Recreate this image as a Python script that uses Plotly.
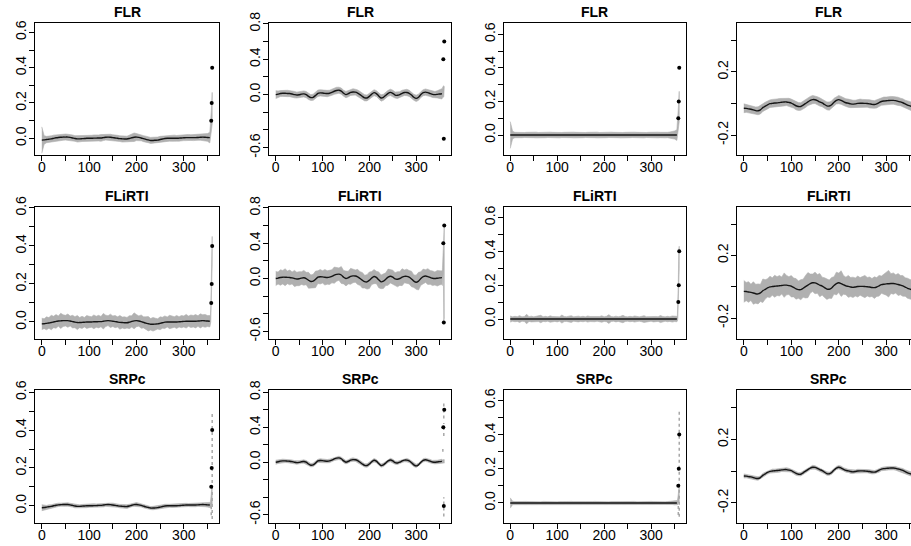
import plotly.graph_objects as go

W, H = 911, 546

methods = ["FLR", "FLiRTI", "SRPc"]

# evaluation grid of the coefficient function and the last few points
grid_x = list(range(0, 360, 5))
tail_x = [356, 357, 358, 359, 360]

# smooth part of the true coefficient function, one per column
beta_1 = [
    -0.010, -0.009, -0.007, -0.005, -0.003, 0.000, 0.003, 0.005, 0.006, 0.007, 0.007, 0.007,
    0.005, 0.002, -0.001, -0.003, -0.003, -0.002, -0.001, 0.000, 0.000, 0.000, 0.001, 0.001,
    0.002, 0.002, 0.004, 0.006, 0.007, 0.006, 0.004, 0.002, 0.000, -0.002, -0.003, -0.004,
    -0.004, -0.001, 0.003, 0.006, 0.007, 0.005, 0.002, -0.002, -0.006, -0.009, -0.012, -0.012,
    -0.011, -0.010, -0.007, -0.004, -0.001, 0.000, 0.000, 0.000, 0.000, 0.000, 0.001, 0.002,
    0.003, 0.004, 0.004, 0.004, 0.004, 0.004, 0.005, 0.006, 0.007, 0.006, 0.005, 0.004,
]
beta_2 = [
    0.000, 0.005, 0.012, 0.015, 0.015, 0.013, 0.012, 0.007, 0.000, -0.005, -0.002, 0.005,
    0.008, 0.000, -0.020, -0.034, -0.030, -0.010, 0.015, 0.020, 0.018, 0.014, 0.012, 0.015,
    0.025, 0.038, 0.047, 0.050, 0.040, 0.015, 0.000, 0.010, 0.025, 0.030, 0.028, 0.018,
    0.000, -0.020, -0.036, -0.038, -0.020, 0.005, 0.022, 0.012, -0.015, -0.038, -0.030, -0.008,
    0.015, 0.025, 0.015, -0.005, -0.008, 0.000, 0.015, 0.024, 0.024, 0.015, -0.005, -0.030,
    -0.042, -0.030, 0.000, 0.022, 0.028, 0.022, 0.012, 0.003, 0.000, 0.003, 0.007, 0.010,
]
beta_3 = [0.0] * len(grid_x)
beta_4 = [
    -0.030, -0.031, -0.034, -0.036, -0.040, -0.045, -0.046, -0.040, -0.026, -0.017, -0.008, -0.001,
    0.001, 0.003, 0.004, 0.006, 0.008, 0.010, 0.010, 0.007, 0.003, -0.005, -0.014, -0.019,
    -0.019, -0.010, 0.000, 0.010, 0.020, 0.025, 0.024, 0.018, 0.010, 0.004, -0.006, -0.015,
    -0.016, -0.008, 0.008, 0.020, 0.025, 0.020, 0.012, 0.005, 0.002, -0.002, -0.004, -0.002,
    0.001, 0.002, 0.002, 0.001, 0.000, -0.002, -0.005, -0.006, -0.002, 0.006, 0.013, 0.016,
    0.018, 0.019, 0.020, 0.020, 0.018, 0.014, 0.010, 0.005, -0.002, -0.010, -0.015, -0.020,
]

# point impacts at the end of the domain
impact_pos = [[358, 359, 360], [358, 359, 360], [358, 359, 360], []]
impact_val = [[0.1, 0.2, 0.4], [0.4, -0.5, 0.6], [0.1, 0.2, 0.4], []]

# half-width of the band of estimates over grid_x
spread_flr_1 = [
    0.075, 0.024, 0.018, 0.016, 0.017, 0.018, 0.016, 0.017, 0.019, 0.018, 0.017, 0.016,
    0.018, 0.017, 0.016, 0.018, 0.017, 0.016, 0.017, 0.018, 0.016, 0.017, 0.018, 0.016,
    0.017, 0.019, 0.017, 0.016, 0.018, 0.017, 0.016, 0.018, 0.017, 0.016, 0.018, 0.017,
    0.016, 0.018, 0.020, 0.024, 0.020, 0.017, 0.016, 0.017, 0.018, 0.016, 0.017, 0.018,
    0.016, 0.017, 0.018, 0.016, 0.017, 0.018, 0.016, 0.017, 0.018, 0.016, 0.017, 0.018,
    0.016, 0.017, 0.018, 0.016, 0.017, 0.018, 0.016, 0.017, 0.018, 0.020, 0.022, 0.030,
]
spread_flr_2 = [
    0.045, 0.036, 0.034, 0.035, 0.033, 0.036, 0.035, 0.034, 0.036, 0.033, 0.035, 0.036,
    0.034, 0.035, 0.036, 0.033, 0.035, 0.034, 0.036, 0.035, 0.033, 0.034, 0.036, 0.035,
    0.033, 0.035, 0.036, 0.034, 0.035, 0.033, 0.036, 0.035, 0.034, 0.036, 0.033, 0.035,
    0.036, 0.034, 0.035, 0.033, 0.036, 0.035, 0.034, 0.033, 0.035, 0.036, 0.034, 0.035,
    0.033, 0.036, 0.035, 0.034, 0.036, 0.033, 0.035, 0.034, 0.036, 0.035, 0.033, 0.034,
    0.036, 0.035, 0.033, 0.034, 0.036, 0.035, 0.034, 0.036, 0.035, 0.040, 0.048, 0.060,
]
spread_flr_3 = [
    0.080, 0.022, 0.016, 0.015, 0.017, 0.016, 0.015, 0.016, 0.017, 0.015, 0.016, 0.017,
    0.015, 0.016, 0.017, 0.016, 0.015, 0.017, 0.016, 0.015, 0.016, 0.017, 0.015, 0.016,
    0.017, 0.015, 0.016, 0.017, 0.016, 0.015, 0.017, 0.016, 0.015, 0.016, 0.017, 0.015,
    0.016, 0.017, 0.015, 0.016, 0.017, 0.016, 0.015, 0.017, 0.016, 0.015, 0.016, 0.017,
    0.015, 0.016, 0.017, 0.016, 0.015, 0.017, 0.016, 0.015, 0.016, 0.017, 0.015, 0.016,
    0.017, 0.015, 0.016, 0.017, 0.016, 0.015, 0.017, 0.016, 0.018, 0.020, 0.024, 0.032,
]
spread_flr_4 = [
    0.028, 0.025, 0.024, 0.026, 0.025, 0.023, 0.025, 0.026, 0.024, 0.025, 0.026, 0.024,
    0.025, 0.023, 0.025, 0.026, 0.024, 0.025, 0.023, 0.026, 0.025, 0.024, 0.026, 0.025,
    0.024, 0.026, 0.025, 0.023, 0.025, 0.026, 0.024, 0.025, 0.026, 0.024, 0.023, 0.025,
    0.026, 0.024, 0.025, 0.023, 0.026, 0.025, 0.024, 0.025, 0.026, 0.024, 0.025, 0.023,
    0.025, 0.026, 0.024, 0.025, 0.023, 0.026, 0.025, 0.024, 0.026, 0.025, 0.024, 0.025,
    0.023, 0.026, 0.025, 0.024, 0.025, 0.026, 0.024, 0.025, 0.023, 0.025, 0.026, 0.028,
]
spread_flirti_1 = [
    0.030, 0.026, 0.034, 0.028, 0.038, 0.030, 0.036, 0.027, 0.040, 0.031, 0.028, 0.035,
    0.026, 0.033, 0.029, 0.037, 0.027, 0.032, 0.025, 0.034, 0.030, 0.028, 0.036, 0.029,
    0.033, 0.027, 0.041, 0.030, 0.026, 0.035, 0.028, 0.032, 0.027, 0.036, 0.029, 0.031,
    0.028, 0.034, 0.030, 0.042, 0.032, 0.027, 0.035, 0.029, 0.033, 0.038, 0.030, 0.036,
    0.031, 0.027, 0.034, 0.029, 0.033, 0.026, 0.035, 0.030, 0.028, 0.034, 0.027, 0.032,
    0.029, 0.036, 0.027, 0.033, 0.030, 0.035, 0.028, 0.037, 0.031, 0.034, 0.029, 0.030,
]
spread_flirti_2 = [
    0.080, 0.068, 0.088, 0.076, 0.096, 0.072, 0.084, 0.068, 0.092, 0.076, 0.080, 0.072,
    0.084, 0.070, 0.090, 0.074, 0.078, 0.094, 0.072, 0.082, 0.070, 0.088, 0.076, 0.083,
    0.074, 0.092, 0.078, 0.070, 0.096, 0.076, 0.084, 0.072, 0.090, 0.078, 0.069, 0.086,
    0.077, 0.088, 0.072, 0.082, 0.094, 0.074, 0.080, 0.070, 0.090, 0.077, 0.083, 0.072,
    0.092, 0.075, 0.080, 0.070, 0.086, 0.078, 0.096, 0.073, 0.082, 0.076, 0.088, 0.071,
    0.080, 0.100, 0.076, 0.085, 0.072, 0.090, 0.078, 0.083, 0.074, 0.088, 0.080, 0.076,
]
spread_flirti_3 = [
    0.018, 0.013, 0.016, 0.014, 0.020, 0.013, 0.015, 0.028, 0.014, 0.017, 0.013, 0.016,
    0.015, 0.022, 0.014, 0.016, 0.013, 0.019, 0.015, 0.014, 0.017, 0.013, 0.024, 0.015,
    0.014, 0.016, 0.020, 0.013, 0.015, 0.017, 0.014, 0.016, 0.013, 0.018, 0.015, 0.014,
    0.016, 0.013, 0.015, 0.019, 0.014, 0.016, 0.026, 0.015, 0.013, 0.017, 0.014, 0.016,
    0.022, 0.015, 0.013, 0.016, 0.014, 0.018, 0.015, 0.013, 0.016, 0.020, 0.014, 0.015,
    0.013, 0.017, 0.015, 0.014, 0.021, 0.015, 0.013, 0.016, 0.014, 0.018, 0.015, 0.016,
]
spread_flirti_4 = [
    0.070, 0.058, 0.066, 0.052, 0.072, 0.060, 0.064, 0.055, 0.075, 0.062, 0.058, 0.068,
    0.056, 0.070, 0.060, 0.065, 0.054, 0.078, 0.062, 0.057, 0.068, 0.060, 0.066, 0.055,
    0.064, 0.058, 0.072, 0.080, 0.061, 0.056, 0.069, 0.060, 0.074, 0.057, 0.063, 0.066,
    0.058, 0.067, 0.055, 0.073, 0.062, 0.082, 0.060, 0.056, 0.070, 0.061, 0.065, 0.058,
    0.067, 0.056, 0.063, 0.071, 0.059, 0.064, 0.057, 0.069, 0.060, 0.066, 0.055, 0.064,
    0.072, 0.085, 0.063, 0.068, 0.058, 0.070, 0.062, 0.066, 0.059, 0.064, 0.061, 0.063,
]
spread_srpc_1 = [
    0.016, 0.011, 0.009, 0.010, 0.008, 0.009, 0.010, 0.009, 0.008, 0.009, 0.010, 0.009,
    0.008, 0.009, 0.010, 0.009, 0.008, 0.009, 0.009, 0.010, 0.008, 0.009, 0.010, 0.009,
    0.009, 0.008, 0.010, 0.009, 0.009, 0.008, 0.010, 0.009, 0.008, 0.009, 0.010, 0.009,
    0.010, 0.009, 0.008, 0.009, 0.010, 0.009, 0.008, 0.009, 0.010, 0.009, 0.008, 0.009,
    0.009, 0.010, 0.008, 0.009, 0.009, 0.010, 0.008, 0.009, 0.010, 0.009, 0.008, 0.009,
    0.010, 0.009, 0.008, 0.009, 0.010, 0.009, 0.008, 0.009, 0.010, 0.011, 0.012, 0.014,
]
spread_srpc_2 = [
    0.024, 0.019, 0.018, 0.020, 0.019, 0.018, 0.020, 0.019, 0.018, 0.019, 0.020, 0.018,
    0.019, 0.020, 0.018, 0.019, 0.020, 0.019, 0.018, 0.020, 0.019, 0.018, 0.019, 0.020,
    0.018, 0.019, 0.020, 0.019, 0.018, 0.020, 0.019, 0.018, 0.019, 0.020, 0.018, 0.019,
    0.020, 0.018, 0.019, 0.020, 0.019, 0.018, 0.020, 0.019, 0.018, 0.019, 0.020, 0.019,
    0.018, 0.020, 0.019, 0.018, 0.019, 0.020, 0.018, 0.019, 0.020, 0.019, 0.018, 0.020,
    0.019, 0.018, 0.020, 0.019, 0.018, 0.019, 0.020, 0.018, 0.019, 0.020, 0.022, 0.024,
]
spread_srpc_3 = [
    0.030, 0.010, 0.008, 0.009, 0.008, 0.007, 0.008, 0.009, 0.008, 0.007, 0.008, 0.009,
    0.008, 0.007, 0.009, 0.008, 0.008, 0.007, 0.009, 0.008, 0.007, 0.008, 0.009, 0.008,
    0.007, 0.008, 0.009, 0.008, 0.007, 0.008, 0.009, 0.008, 0.008, 0.007, 0.009, 0.008,
    0.009, 0.008, 0.007, 0.008, 0.009, 0.008, 0.007, 0.008, 0.009, 0.008, 0.007, 0.008,
    0.008, 0.009, 0.007, 0.008, 0.008, 0.009, 0.007, 0.008, 0.009, 0.008, 0.007, 0.008,
    0.009, 0.008, 0.007, 0.008, 0.009, 0.008, 0.007, 0.008, 0.009, 0.009, 0.011, 0.014,
]
spread_srpc_4 = [
    0.013, 0.011, 0.010, 0.011, 0.012, 0.010, 0.011, 0.010, 0.012, 0.011, 0.010, 0.011,
    0.012, 0.010, 0.011, 0.012, 0.010, 0.011, 0.012, 0.011, 0.010, 0.011, 0.012, 0.010,
    0.011, 0.012, 0.010, 0.011, 0.010, 0.012, 0.011, 0.010, 0.011, 0.012, 0.010, 0.011,
    0.010, 0.011, 0.012, 0.010, 0.011, 0.012, 0.010, 0.011, 0.010, 0.012, 0.011, 0.010,
    0.011, 0.010, 0.012, 0.011, 0.010, 0.011, 0.012, 0.010, 0.011, 0.012, 0.010, 0.011,
    0.012, 0.011, 0.010, 0.011, 0.012, 0.010, 0.011, 0.012, 0.011, 0.012, 0.013, 0.014,
]

# upper / lower edge of the band over tail_x
tail_hi_flr = [[0.06, 0.10, 0.15, 0.20, 0.26], [0.07, 0.09, 0.10, 0.10, 0.09],
               [0.06, 0.10, 0.16, 0.21, 0.26], [0.02, 0.04, 0.06, 0.08, 0.10]]
tail_lo_flr = [[-0.012, 0.0, 0.03, 0.06, 0.08], [-0.035, -0.03, -0.03, -0.025, -0.02],
               [-0.012, 0.0, 0.03, 0.06, 0.08], [-0.05, -0.05, -0.04, -0.03, -0.02]]
tail_hi_flirti = [[0.02, 0.08, 0.22, 0.42, 0.45], [0.10, 0.25, 0.42, 0.58, 0.60],
                  [0.02, 0.08, 0.22, 0.41, 0.43], [0.05, 0.10, 0.20, 0.30, 0.40]]
tail_lo_flirti = [[-0.015, 0.0, 0.05, 0.10, 0.30], [-0.08, -0.02, 0.10, -0.48, -0.45],
                  [-0.012, 0.0, 0.05, 0.10, 0.30], [-0.10, -0.10, -0.10, -0.10, -0.10]]
tail_hi_srpc = [[0.015, 0.03, 0.06, 0.10, 0.10], [0.025, 0.03, 0.03, 0.03, 0.03],
                [0.015, 0.03, 0.06, 0.10, 0.10], [0.01, 0.01, 0.01, 0.01, 0.01]]
tail_lo_srpc = [[-0.01, -0.01, 0.0, 0.0, 0.0], [-0.01, -0.01, -0.01, -0.01, -0.01],
                [-0.01, -0.01, 0.0, 0.0, 0.0], [-0.03, -0.03, -0.03, -0.03, -0.03]]

# scattered SRPc estimates at the impact points (vertical runs)
seg_x_srpc = [[358, 360], [359, 359, 359, 357], [358, 360], []]
seg_lo_srpc = [[-0.05, -0.07], [0.50, 0.30, -0.62, 0.12], [-0.07, -0.08], []]
seg_hi_srpc = [[0.0, 0.50], [0.70, 0.45, -0.40, 0.15], [0.0, 0.54], []]

x_tickvals = [0, 50, 100, 150, 200, 250, 300, 350]
x_ticktext = ["0", "", "100", "", "200", "", "300", ""]
y_tick_sets = [
    ([0.0, 0.1, 0.2, 0.3, 0.4, 0.5, 0.6], ["0.0", "", "0.2", "", "0.4", "", "0.6"]),
    ([-0.6, -0.4, -0.2, 0.0, 0.2, 0.4, 0.6, 0.8], ["-0.6", "", "", "0.0", "", "0.4", "", "0.8"]),
    ([0.0, 0.1, 0.2, 0.3, 0.4, 0.5, 0.6], ["0.0", "", "0.2", "", "0.4", "", "0.6"]),
    ([-0.2, 0.0, 0.2, 0.4], ["-0.2", "", "0.2", ""]),
]
y_ranges = [
    [[-0.0945, 0.653], [-0.683, 0.81], [-0.119, 0.667], [-0.326, 0.51]],
    [[-0.0895, 0.605], [-0.686, 0.811], [-0.118, 0.662], [-0.334, 0.509]],
    [[-0.091, 0.612], [-0.695, 0.826], [-0.117, 0.66], [-0.326, 0.511]],
]
x_ranges = [[-14.4, 374.4], [-14.4, 374.4], [-14.4, 374.4], [-14.4, 352.2]]

# panel placement in pixels
col_px = [(35, 219), (269, 451), (503.5, 686), (737, 911)]
row_px = [(23, 155), (207, 339), (390, 523)]

betas = [beta_1, beta_2, beta_3, beta_4]
spreads = [
    [spread_flr_1, spread_flr_2, spread_flr_3, spread_flr_4],
    [spread_flirti_1, spread_flirti_2, spread_flirti_3, spread_flirti_4],
    [spread_srpc_1, spread_srpc_2, spread_srpc_3, spread_srpc_4],
]
tails_hi = [tail_hi_flr, tail_hi_flirti, tail_hi_srpc]
tails_lo = [tail_lo_flr, tail_lo_flirti, tail_lo_srpc]

BAND = "#b0b0b0"
FONT = "Liberation Sans, Arial, Helvetica, sans-serif"

fig = go.Figure()
layout = dict(
    width=W, height=H, margin=dict(l=0, r=0, t=0, b=0, pad=0, autoexpand=False),
    paper_bgcolor="white", plot_bgcolor="white", showlegend=False,
    font=dict(family=FONT, size=14, color="black"),
    annotations=[],
)

n = 0
for r, method in enumerate(methods):
    for c in range(4):
        n += 1
        xa = "x" if n == 1 else f"x{n}"
        ya = "y" if n == 1 else f"y{n}"
        beta = betas[c]
        sp = spreads[r][c]
        xs = grid_x + tail_x
        upper = [b + s for b, s in zip(beta, sp)] + tails_hi[r][c]
        lower = [b - s for b, s in zip(beta, sp)] + tails_lo[r][c]
        fig.add_trace(go.Scatter(
            x=xs + xs[::-1], y=upper + lower[::-1], mode="lines",
            fill="toself", fillcolor=BAND, line=dict(color=BAND, width=0.6),
            xaxis=xa, yaxis=ya, hoverinfo="skip"))
        if r == 2 and seg_x_srpc[c]:
            sx, sy = [], []
            for x0, lo, hi in zip(seg_x_srpc[c], seg_lo_srpc[c], seg_hi_srpc[c]):
                sx += [x0, x0, None]
                sy += [lo, hi, None]
            fig.add_trace(go.Scatter(
                x=sx, y=sy, mode="lines", line=dict(color="#a8a8a8", width=1.5, dash="dot"),
                xaxis=xa, yaxis=ya, hoverinfo="skip"))
        fig.add_trace(go.Scatter(
            x=grid_x, y=beta, mode="lines",
            line=dict(color="#151515", width=1.4, shape="spline", smoothing=0.7),
            xaxis=xa, yaxis=ya, hoverinfo="skip"))
        if impact_pos[c]:
            fig.add_trace(go.Scatter(
                x=impact_pos[c], y=impact_val[c], mode="markers",
                marker=dict(color="black", size=4),
                xaxis=xa, yaxis=ya, hoverinfo="skip"))

        x0p, x1p = col_px[c]
        y0p, y1p = row_px[r]
        axis_common = dict(
            showgrid=False, zeroline=False, showline=True, linecolor="black", linewidth=1,
            ticks="outside", ticklen=5, tickwidth=1, tickcolor="black", automargin=False,
            tickfont=dict(family=FONT, size=14, color="black"),
        )
        layout["xaxis" if n == 1 else f"xaxis{n}"] = dict(
            axis_common, domain=[x0p / W, x1p / W], anchor=ya,
            range=x_ranges[c], tickvals=x_tickvals, ticktext=x_ticktext,
            mirror=True, ticklabelstandoff=-6,
        )
        tv, tt = y_tick_sets[c]
        layout["yaxis" if n == 1 else f"yaxis{n}"] = dict(
            axis_common, domain=[1 - y1p / H, 1 - y0p / H], anchor=xa,
            range=y_ranges[r][c], tickvals=tv, ticktext=tt, tickangle=-90,
            mirror=(c != 3), ticklabelstandoff=-3,
        )
        x_mid = (x0p + x1p) / 2 if c < 3 else (x0p + 920) / 2
        layout["annotations"].append(dict(
            text=f"<b>{method}</b>", xref="paper", yref="paper",
            x=x_mid / W, y=1 - (y0p - 11.5) / H, xanchor="center", yanchor="middle",
            showarrow=False, font=dict(family=FONT, size=14, color="black"),
        ))

fig.update_layout(**layout)
fig.write_html("out.html")
